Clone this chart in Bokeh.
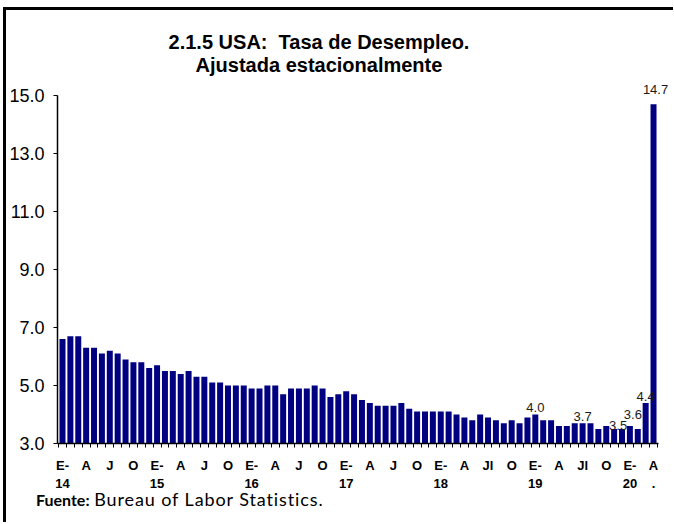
from bokeh.plotting import figure
from bokeh.models import FixedTicker, Range1d, ColumnDataSource, Div, PrintfTickFormatter
from bokeh.core.properties import value
from bokeh.layouts import column, row
from bokeh.embed import file_html
from bokeh.resources import INLINE

# ---- data ----
rate_2014 = [6.6, 6.7, 6.7, 6.3, 6.3, 6.1, 6.2, 6.1, 5.9, 5.8, 5.8, 5.6]
rate_2015 = [5.7, 5.5, 5.5, 5.4, 5.5, 5.3, 5.3, 5.1, 5.1, 5.0, 5.0, 5.0]
rate_2016 = [4.9, 4.9, 5.0, 5.0, 4.7, 4.9, 4.9, 4.9, 5.0, 4.9, 4.6, 4.7]
rate_2017 = [4.8, 4.7, 4.5, 4.4, 4.3, 4.3, 4.3, 4.4, 4.2, 4.1, 4.1, 4.1]
rate_2018 = [4.1, 4.1, 4.0, 3.9, 3.8, 4.0, 3.9, 3.8, 3.7, 3.8, 3.7, 3.9]
rate_2019 = [4.0, 3.8, 3.8, 3.6, 3.6, 3.7, 3.7, 3.7, 3.5, 3.6, 3.5, 3.5]
rate_2020 = [3.6, 3.5, 4.4, 14.7]

tick_labels = ["E-\n14", "A", "J", "O", "E-\n15", "A", "J", "O",
               "E-\n16", "A", "J", "O", "E-\n17", "A", "J", "O",
               "E-\n18", "A", "Jl", "O", "E-\n19", "A", "Jl", "O",
               "E-\n20", "A\n."]
y_ticks = [3, 5, 7, 9, 11, 13, 15]
labeled_months = [60, 66, 70, 72, 74, 75]   # bars that carry a value label

title_lines = ["2.1.5 USA:&nbsp; Tasa de Desempleo.", "Ajustada estacionalmente"]
source_bold = "Fuente:"
source_text = "Bureau of Labor Statistics."

# small pixel nudges of the value labels (style only)
label_dx = [0, 0, 4, 3, 0, 2]
label_dy = [0, 0, 3, -5, 0, -8]

rates = rate_2014 + rate_2015 + rate_2016 + rate_2017 + rate_2018 + rate_2019 + rate_2020
idx = list(range(len(rates)))
base = 3.0

src = ColumnDataSource(dict(x=idx, top=rates))
lab_src = ColumnDataSource(dict(x=labeled_months,
                                y=[rates[i] for i in labeled_months],
                                t=[f"{rates[i]:.1f}" for i in labeled_months],
                                dx=label_dx,
                                dy=[d - 2 for d in label_dy]))

x_start, x_end = -0.635, 76.9
p = figure(width=662, height=416, output_backend="svg", toolbar_location=None,
           title=None, x_range=Range1d(x_start, x_end), y_range=Range1d(3.0, 15.62),
           min_border_left=51, min_border_right=0, min_border_top=0,
           min_border_bottom=48, margin=0)
p.background_fill_color = "white"
p.border_fill_color = "white"
p.outline_line_color = None
p.xgrid.visible = False
p.ygrid.visible = False

p.vbar(x="x", top="top", bottom=base, width=0.76, source=src,
       fill_color="#000080", line_color=None)

p.text(x="x", y="y", text="t", source=lab_src, x_offset="dx", y_offset="dy",
       text_align="center", text_baseline="bottom", text_font_size="13px",
       text_font=value("Liberation Sans"), text_color="#1a1a1a")

# y axis
yax = p.yaxis[0]
yax.ticker = FixedTicker(ticks=y_ticks)
yax.bounds = (y_ticks[0], y_ticks[-1])
yax.formatter = PrintfTickFormatter(format="%.1f")
yax.major_label_text_font = "Liberation Sans"
yax.major_label_text_font_size = "18px"
yax.major_label_text_color = "black"
yax.axis_line_color = "black"
yax.axis_line_width = 1.5
yax.major_tick_out = 4
yax.major_tick_in = 0
yax.minor_tick_out = 0
yax.minor_tick_in = 0
yax.major_label_standoff = 9

# x axis
xax = p.xaxis[0]
major = list(range(0, len(rates), 3))
xax.ticker = FixedTicker(ticks=major,
                         minor_ticks=[i - 0.5 for i in idx] + [len(rates) - 0.5])
xax.bounds = (x_start, len(rates) - 0.4)
xax.major_label_overrides = {m: lab for m, lab in zip(major, tick_labels)}
xax.major_label_text_font = "Liberation Sans"
xax.major_label_text_font_style = "bold"
xax.major_label_text_font_size = "13px"
xax.major_label_text_color = "black"
xax.axis_line_color = "black"
xax.axis_line_width = 1.5
xax.major_tick_out = 0
xax.major_tick_in = 0
xax.minor_tick_out = 4
xax.minor_tick_in = 0
xax.minor_tick_line_color = "black"
xax.major_label_standoff = 10

title_div = Div(
    text="<div style='padding-top:21px'>" + "<br>".join(title_lines) + "</div>",
    width=626, height=67, margin=0,
    styles={"font-family": "Liberation Sans, Arial, sans-serif", "font-weight": "bold",
            "font-size": "20px", "line-height": "23px", "text-align": "center",
            "color": "black"})

source_div = Div(
    text=("<div style='position:relative; top:-1px; padding-left:30px; white-space:nowrap'>"
          f"<span style='font-weight:bold; font-size:16px'>{source_bold}</span> "
          f"<span style='letter-spacing:0.9px'>{source_text}</span></div>"),
    width=662, height=14, margin=0,
    styles={"font-family": "Lato, sans-serif", "font-size": "18px",
            "line-height": "14px", "color": "black"})

content = column(title_div, p, source_div, spacing=0, margin=0)
left_bar = Div(text="", width=3, height=512, margin=0,
               styles={"background-color": "black"})
top_bar = Div(text="", width=670, height=3, margin=0,
              styles={"background-color": "black"})
layout = column(top_bar, row(left_bar, content, spacing=0, margin=0),
                spacing=0, margin=(7, 0, 0, 3))

open("out.html", "w").write(file_html(layout, INLINE))
